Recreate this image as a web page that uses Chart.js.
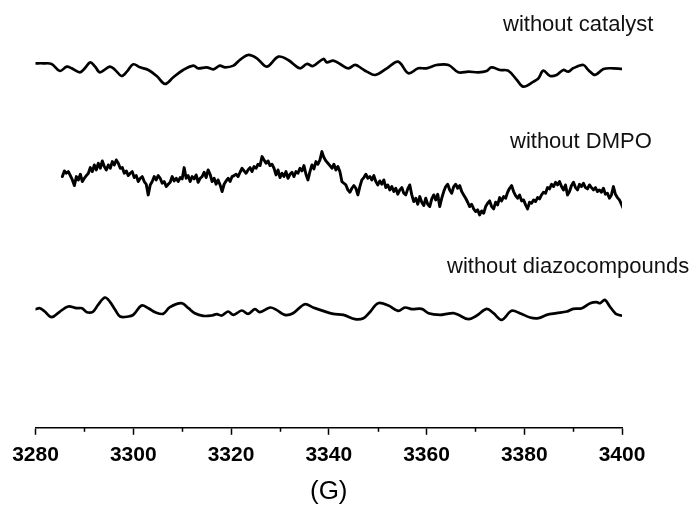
<!DOCTYPE html>
<html>
<head>
<meta charset="utf-8">
<script src="https://cdn.jsdelivr.net/npm/chart.js@4/dist/chart.umd.min.js"></script>
<style>
  html, body { margin: 0; padding: 0; background: #fff; }
  #wrap { width: 697px; height: 505px; }
</style>
</head>
<body>
<div id="wrap"><canvas id="cvEpr" width="697" height="505"></canvas></div>
<script>
// field axis (G)
var fieldTicks = [3280, 3300, 3320, 3340, 3360, 3380, 3400];
var minorTicks = [3290, 3310, 3330, 3350, 3370, 3390];

var traceNames = ["without catalyst", "without DMPO", "without diazocompounds"];
// vertical offset of each spectrum (a.u.)
var traceOffsets = [1092, 744, 354];

// without catalyst
var catalystField = [3280, 3281.6, 3283.3, 3285.0, 3286.4, 3287.4, 3289.1, 3290.1, 3291.2, 3292.2,
    3293.2, 3295.2, 3296.3, 3297.6, 3298.7, 3300.0, 3301.4, 3303.1, 3304.8, 3306.5,
    3308.2, 3310.2, 3312.3, 3313.3, 3315.0, 3316.4, 3317.7, 3318.8, 3320.5, 3321.8,
    3323.5, 3325.3, 3327.3, 3329.7, 3331.7, 3334.1, 3335.5, 3336.8, 3338.9,
    3339.6, 3340.9, 3342.3, 3344.0, 3345.4, 3346.7, 3347.8, 3349.5, 3351.9, 3354.2,
    3356.3, 3358.3, 3360.0, 3362.1, 3364.5, 3366.5, 3368.6, 3370.6, 3372.3, 3373.3,
    3375.0, 3376.7, 3378.5, 3379.8, 3381.9, 3382.9, 3383.9, 3385.3, 3386.6, 3388.0,
    3389.0, 3390.0, 3392.1, 3393.1, 3394.5, 3396.2, 3398.2, 3399.9];
var catalystSignal = [2, 2, 0, -21, -8, -13, -25, -13, 5, -8,
    -25, -8, -18, -36, -23, -1, -10, -18, -36, -60,
    -40, -18, -5, -13, -10, -16, -5, -10, -5, 12,
    27, 17, -8, 22, 12, -13, 0, -6, 15,
    5, 10, 0, -13, -3, -13, -23, -33, -13, 7,
    -28, -13, -13, -3, -3, -25, -23, -25, -21, -10,
    -18, -20, -48, -68, -53, -43, -20, -36, -33, -18,
    -23, -13, -3, -18, -33, -15, -13, -15];

// without DMPO (regular sweep)
var dmpoStart = 3285.5;
var dmpoStep = 0.4085;
var dmpoSignal = [10, 27, 20, 25, 13, 0, -17, 10, 0, 17,
    -5, 5, 13, 20, 37, 25, 45, 30, 50, 35,
    57, 40, 30, 45, 35, 55, 45, 60, 50, 35,
    37, 20, 27, 13, 20, 25, 7, 13, -5, 5,
    10, -5, -13, -45, -15, -5, 10, 0, 13, 5,
    -10, -5, -20, -13, -7, 10, -3, 5, -5, 7,
    3, 37, 5, 13, -5, 10, 3, 15, -7, 5,
    10, 23, 7, 30, 17, -5, 5, -13, 0, -15,
    -35, -13, -3, 5, -5, 10, 13, 17, 10, 23,
    35, 27, 20, 30, 37, 25, 40, 35, 47, 43,
    70, 60, 50, 57, 43, 47, 35, 15, 30, 7,
    20, 10, 25, 5, 17, 23, 10, 25, 20, 35,
    27, 43, 17, 0, 25, 45, 33, 55, 47, 60,
    85, 67, 57, 50, 43, 35, 47, 30, 40, 25,
    -5, -10, -15,
    -30, -37, -25, -17, -25, -45, -20, 0, 7, 17,
    5, 10, 0, 13, -5, -15, -3, -13, 0, -23,
    -15, -30, -20, -35, -25, -43, -30, -23, -40, -45,
    -27, -15, -45, -65, -55, -73, -50, -67, -77, -55,
    -73, -80, -57, -45, -60, -43, -80, -55, -35, -20,
    -13, -30, -40, -20, -13, -25, -17, -35, -45, -55,
    -67, -80, -73, -87, -95, -90, -105, -93, -100, -80,
    -70, -63, -80, -87, -67, -75, -53, -63, -50, -55,
    -37, -25, -17, -35, -47, -55, -45, -63, -60, -75,
    -87, -67, -70, -60, -65, -53, -57, -45, -37, -40,
    -23, -27, -13, -20, -7, -15, -5, -20, -30, -15,
    -45, -35, -17, -7, -23, -30, -13, -20, -10, -23,
    -27, -15, -23, -30, -23, -35, -30, -37, -25, -43,
    -40, -55, -45, -20, -43, -53, -60, -73, -87];

// without diazocompounds
var diazoField = [3280, 3280.9, 3281.9, 3283.3, 3285.0, 3286.7, 3288.4, 3289.5, 3290.5, 3291.8,
    3292.8, 3294.2, 3295.2, 3296.3, 3297.3, 3299.0, 3300.0, 3301.7, 3303.1, 3304.5,
    3306.1, 3307.5, 3309.9, 3311.3, 3312.6, 3314.3, 3316.0, 3317.1, 3318.1, 3319.4,
    3320.5, 3322.2, 3323.5, 3324.9, 3325.9, 3328.0, 3329.3, 3331.0, 3332.7, 3335.1,
    3336.8,
    3338.2, 3340.9, 3343.0, 3345.4, 3347.1, 3348.4, 3350.1, 3352.2, 3354.2, 3355.6,
    3357.0, 3359.0, 3360.4, 3362.8, 3364.1, 3365.5, 3366.5, 3368.6, 3370.3, 3372.3,
    3373.7, 3375.4, 3377.4, 3379.1, 3381.2, 3382.9, 3384.6, 3386.6, 3388.7, 3390.0,
    3391.8, 3393.5, 3394.8, 3395.5, 3396.5, 3397.5, 3398.6, 3399.2, 3399.9];
var diazoSignal = [2, 5, -5, -22, -5, 10, 5, 5, -7, -5,
    15, 37, 25, 0, -20, -20, -15, 13, 5, -7,
    -12, 8, 20, 5, -10, -18, -17, -13, -17, -5,
    -15, -2, -12, 2, -7, 7, 0, -15, -10, 17,
    7,
    0, -12, -15, -28, -25, -7, 20, 13, -3, 7,
    2, 3, -10, -15, -12, -10, -15, -28, -17, 3,
    -10, -30, -3, -10, -23, -25, -15, -10, -5, 3,
    5, 20, 23, 20, 30, 10, -10, -15, -17];

function toPoints(fields, signal, offset) {
    var pts = [];
    for (var i = 0; i < signal.length; i++) {
        pts.push({ x: fields[i], y: signal[i] + offset });
    }
    return pts;
}

var dmpoField = [];
for (var i = 0; i < dmpoSignal.length; i++) {
    dmpoField.push(dmpoStart + i * dmpoStep);
}

function lineSet(points, tension, width) {
    return {
        data: points,
        borderColor: "#000",
        borderWidth: width,
        pointRadius: 0,
        tension: tension,
        borderJoinStyle: "round",
        borderCapStyle: "round"
    };
}

// minor ticks + trace captions
var extras = {
    id: "extras",
    afterDraw: function(chart) {
        var ctx = chart.ctx;
        var sx = chart.scales.x;
        var y0 = chart.chartArea.bottom;
        ctx.save();
        ctx.strokeStyle = "#000";
        ctx.lineWidth = 1.5;
        minorTicks.forEach(function(v) {
            var px = Math.round(sx.getPixelForValue(v)) + 0.5;
            ctx.beginPath();
            ctx.moveTo(px, y0);
            ctx.lineTo(px, y0 + 4);
            ctx.stroke();
        });
        ctx.fillStyle = "#111";
        ctx.font = '22px "Liberation Sans", Arial, sans-serif';
        ctx.textBaseline = "alphabetic";
        var spots = [[503, 31], [510, 148], [447, 273]];
        traceNames.forEach(function(name, k) {
            ctx.fillText(name, spots[k][0], spots[k][1]);
        });
        ctx.restore();
    }
};

new Chart(document.getElementById("cvEpr"), {
    type: "line",
    data: {
        datasets: [
            lineSet(toPoints(catalystField, catalystSignal, traceOffsets[0]), 0.35, 2.7),
            lineSet(toPoints(dmpoField, dmpoSignal, traceOffsets[1]), 0, 2.9),
            lineSet(toPoints(diazoField, diazoSignal, traceOffsets[2]), 0.35, 2.7)
        ]
    },
    options: {
        responsive: false,
        animation: false,
        layout: { padding: { left: 35.5, right: 75, top: 0, bottom: 0 } },
        plugins: {
            legend: { display: false },
            tooltip: { enabled: false }
        },
        scales: {
            x: {
                type: "linear",
                min: 3280,
                max: 3400,
                afterBuildTicks: function(scale) {
                    scale.ticks = fieldTicks.map(function(v) { return { value: v }; });
                },
                ticks: {
                    color: "#000",
                    padding: 8,
                    maxRotation: 0,
                    autoSkip: false,
                    font: { family: '"Liberation Sans", Arial, sans-serif', size: 21, weight: "bold" },
                    callback: function(v) { return String(v); }
                },
                grid: {
                    drawOnChartArea: false,
                    drawTicks: true,
                    tickLength: 7,
                    tickColor: "#000",
                    tickWidth: 1.5
                },
                border: { display: true, color: "#000", width: 1.5 },
                title: {
                    display: true,
                    text: "(G)",
                    color: "#000",
                    font: { family: '"Liberation Sans", Arial, sans-serif', size: 26, lineHeight: 1 },
                    padding: { top: 3, bottom: 0 }
                }
            },
            y: { display: false, min: 0, max: 1284 }
        }
    },
    plugins: [extras]
});
</script>
</body>
</html>
